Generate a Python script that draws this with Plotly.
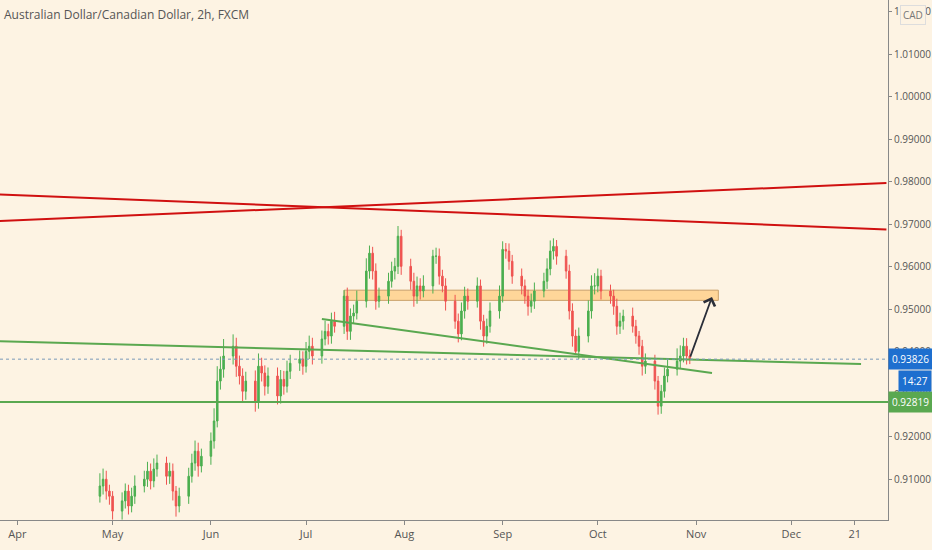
import plotly.graph_objects as go
import pandas as pd

dates = pd.bdate_range("2020-04-27", "2020-10-30")
closes = [0.9084,0.9100,0.9072,0.9060,0.9025,
 0.9049,0.9072,0.9037,0.9060,0.9084,
 0.9100,0.9119,0.9096,0.9124,0.9138,
 0.9107,0.9119,0.9072,0.9037,0.9060,
 0.9107,0.9138,0.9166,0.9131,0.9154,
 0.9190,0.9237,0.9331,0.9359,0.9390,
 0.9413,0.9366,0.9343,0.9307,0.9331,
 0.9284,0.9366,0.9350,0.9319,0.9343,
 0.9296,0.9335,0.9319,0.9354,0.9373,
 0.9383,0.9366,0.9401,0.9413,0.9390,
 0.9430,0.9448,0.9437,0.9472,0.9460,
 0.9531,0.9448,0.9484,0.9491,0.9519,
 0.9590,0.9632,0.9590,0.9519,0.9531,
 0.9566,0.9590,0.9601,0.9672,0.9601,
 0.9566,0.9531,0.9555,0.9543,0.9555,
 0.9625,0.9625,0.9578,0.9555,0.9519,
 0.9472,0.9442,0.9496,0.9531,0.9519,
 0.9555,0.9472,0.9437,0.9460,0.9496,
 0.9531,0.9641,0.9637,0.9613,0.9578,
 0.9555,0.9531,0.9507,0.9519,0.9543,
 0.9566,0.9595,0.9637,0.9648,0.9625,
 0.9590,0.9496,0.9437,0.9401,0.9437,
 0.9496,0.9555,0.9555,0.9578,0.9543,
 0.9531,0.9507,0.9460,0.9472,0.9484,
 0.9460,0.9437,0.9413,0.9366,0.9378,
 0.9331,0.9272,0.9307,0.9343,0.9359,
 0.9378,0.9390,0.9413,0.9390,0.9383]
opens = [0.9060] + closes[:-1]
wick_hi = [0.0030,0.0025,0.0020,0.0015,0.0012,
 0.0020,0.0018,0.0015,0.0020,0.0025,
 0.0020,0.0022,0.0018,0.0025,0.0020,
 0.0015,0.0020,0.0018,0.0012,0.0020,
 0.0020,0.0022,0.0025,0.0020,0.0018,
 0.0020,0.0030,0.0035,0.0030,0.0040,
 0.0028,0.0020,0.0025,0.0018,0.0022,
 0.0025,0.0030,0.0020,0.0018,0.0020,
 0.0020,0.0022,0.0020,0.0025,0.0020,
 0.0020,0.0018,0.0022,0.0025,0.0020,
 0.0020,0.0025,0.0018,0.0020,0.0022,
 0.0014,0.0020,0.0018,0.0020,0.0025,
 0.0030,0.0018,0.0015,0.0018,0.0020,
 0.0020,0.0022,0.0020,0.0024,0.0015,
 0.0018,0.0020,0.0022,0.0018,0.0025,
 0.0015,0.0020,0.0018,0.0015,0.0018,
 0.0015,0.0018,0.0020,0.0022,0.0018,
 0.0020,0.0015,0.0015,0.0018,0.0020,
 0.0025,0.0019,0.0015,0.0018,0.0015,
 0.0018,0.0015,0.0015,0.0018,0.0020,
 0.0020,0.0025,0.0025,0.0019,0.0015,
 0.0015,0.0015,0.0018,0.0015,0.0020,
 0.0025,0.0025,0.0030,0.0018,0.0015,
 0.0015,0.0015,0.0018,0.0020,0.0015,
 0.0020,0.0015,0.0012,0.0015,0.0018,
 0.0015,0.0012,0.0015,0.0020,0.0022,
 0.0030,0.0025,0.0020,0.0019,0.0015]
wick_lo = [0.0015,0.0020,0.0020,0.0020,0.0020,
 0.0020,0.0018,0.0020,0.0015,0.0018,
 0.0015,0.0018,0.0020,0.0015,0.0018,
 0.0020,0.0018,0.0022,0.0025,0.0015,
 0.0018,0.0015,0.0018,0.0025,0.0015,
 0.0020,0.0018,0.0015,0.0020,0.0020,
 0.0020,0.0025,0.0020,0.0025,0.0020,
 0.0025,0.0018,0.0020,0.0022,0.0018,
 0.0020,0.0018,0.0020,0.0015,0.0018,
 0.0018,0.0020,0.0015,0.0018,0.0020,
 0.0018,0.0015,0.0020,0.0018,0.0015,
 0.0018,0.0020,0.0020,0.0018,0.0015,
 0.0015,0.0018,0.0020,0.0020,0.0015,
 0.0018,0.0015,0.0020,0.0018,0.0020,
 0.0020,0.0025,0.0018,0.0020,0.0015,
 0.0018,0.0018,0.0020,0.0015,0.0022,
 0.0018,0.0020,0.0015,0.0018,0.0020,
 0.0015,0.0020,0.0025,0.0018,0.0015,
 0.0018,0.0015,0.0018,0.0020,0.0018,
 0.0020,0.0018,0.0022,0.0015,0.0018,
 0.0015,0.0018,0.0015,0.0020,0.0020,
 0.0018,0.0020,0.0025,0.0008,0.0018,
 0.0015,0.0018,0.0020,0.0015,0.0020,
 0.0018,0.0020,0.0020,0.0018,0.0020,
 0.0015,0.0018,0.0020,0.0022,0.0018,
 0.0020,0.0020,0.0018,0.0015,0.0015,
 0.0015,0.0018,0.0015,0.0020,0.0012]
highs = [max(o, c) + w for o, c, w in zip(opens, closes, wick_hi)]
lows = [min(o, c) - w for o, c, w in zip(opens, closes, wick_lo)]

last_price = 0.93826
support = 0.92819
red_line_a = (["2020-03-24", "2020-12-31"], [0.9771, 0.9688])
red_line_b = (["2020-03-24", "2020-12-31"], [0.9707, 0.9797])
green_long = (["2020-03-24", "2020-12-23"], [0.9425, 0.9371])
green_short = (["2020-07-06", "2020-11-06"], [0.9477, 0.9350])
zone = ("2020-07-13", "2020-11-08", 0.9521, 0.9545)
arrow = ("2020-10-30", 0.9385, "2020-11-06", 0.9529)
tick_dates = ["2020-04-01","2020-05-01","2020-06-01","2020-07-01","2020-08-01",
              "2020-09-01","2020-10-01","2020-11-01","2020-12-01","2020-12-21"]
tick_text = ["Apr","May","Jun","Jul","Aug","Sep","Oct","Nov","Dec","21"]

fig = go.Figure()
fig.add_shape(type="rect", x0=zone[0], x1=zone[1], y0=zone[2], y1=zone[3],
              fillcolor="rgba(255,204,128,0.75)", line=dict(color="#c9a06a", width=1), layer="below")
fig.add_trace(go.Candlestick(x=dates, open=opens, high=highs, low=lows, close=closes,
    increasing=dict(line=dict(color="#4caf50", width=1), fillcolor="#4caf50"),
    decreasing=dict(line=dict(color="#ef5350", width=1), fillcolor="#ef5350"),
    whiskerwidth=0, showlegend=False, hoverinfo="skip"))
for (xs, ys), col, w in [(red_line_a, "#d01010", 2), (red_line_b, "#d01010", 2),
                         (green_long, "#5aa850", 2), (green_short, "#5aa850", 2)]:
    fig.add_trace(go.Scatter(x=xs, y=ys, mode="lines", line=dict(color=col, width=w),
                             showlegend=False, hoverinfo="skip"))
fig.add_hline(y=support, line=dict(color="#5aa850", width=2))
fig.add_hline(y=last_price, line=dict(color="#7a9ab8", width=1, dash="dot"))
fig.add_annotation(x=arrow[2], y=arrow[3], ax=arrow[0], ay=arrow[1], xref="x", yref="y",
                   axref="x", ayref="y", showarrow=True, arrowhead=4, arrowsize=1.3,
                   arrowwidth=1.8, arrowcolor="#2a2e39", text="")
fig.add_annotation(x=0, y=1, xref="paper", yref="paper", xanchor="left", yanchor="top",
                   xshift=2, yshift=-4, showarrow=False,
                   text="Australian Dollar/Canadian Dollar, 2h, FXCM",
                   font=dict(family="Open Sans", size=12, color="#555"))
for y, txt, bg in [(last_price, f"{last_price:.5f}", "#1e6fcf"),
                   (support, f"{support:.5f}", "#5aa850")]:
    fig.add_annotation(x=1, y=y, xref="paper", yref="y", xanchor="left", showarrow=False,
                       text=txt, bgcolor=bg, font=dict(color="white", size=10, family="Open Sans"),
                       borderpad=3)
fig.add_annotation(x=1, y=last_price, xref="paper", yref="y", xanchor="left", yshift=-22,
                   xshift=10, showarrow=False, text="14:27", bgcolor="#1e6fcf",
                   font=dict(color="white", size=10, family="Open Sans"), borderpad=3)
fig.add_annotation(x=1, y=1, xref="paper", yref="paper", xanchor="left", yanchor="top",
                   xshift=12, yshift=-5, showarrow=False, text="CAD", bgcolor="#fdf3e3",
                   bordercolor="#ddd", borderwidth=1, borderpad=2,
                   font=dict(color="#777", size=10, family="Open Sans"))

fig.update_layout(width=932, height=550, margin=dict(l=0, r=44, t=0, b=30),
                  paper_bgcolor="#fdf3e3", plot_bgcolor="#fdf3e3",
                  font=dict(family="Open Sans", size=10, color="#555"))
fig.update_xaxes(type="date", range=["2020-03-26 12:00", "2020-12-31 12:00"], rangeslider_visible=False,
                 tickvals=tick_dates, ticktext=tick_text, showgrid=False, showline=True,
                 linecolor="#888", ticks="outside", ticklen=4, tickcolor="#888", zeroline=False,
                 tickfont=dict(size=11))
fig.update_yaxes(side="right", range=[0.9004, 1.0228], dtick=0.01, tickformat=".5f",
                 showgrid=False, showline=True, linecolor="#888", ticks="outside", ticklen=3,
                 tickcolor="#888", zeroline=False, tickfont=dict(size=10))
fig.write_html("out.html", config={"displayModeBar": False})
with open("out.html", encoding="utf-8") as f:
    html = f.read()
html = html.replace("<head>", "<head><style>html,body{margin:0;padding:0;overflow:hidden;}</style>", 1)
with open("out.html", "w", encoding="utf-8") as f:
    f.write(html)
